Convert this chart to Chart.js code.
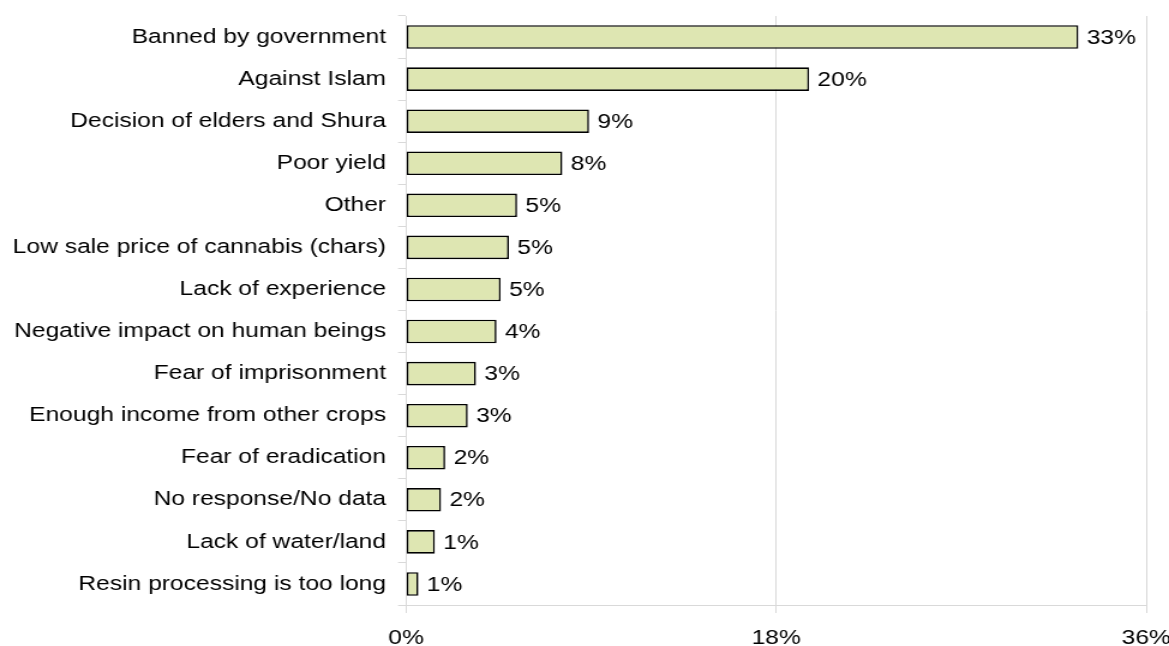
<!DOCTYPE html>
<html lang="en">
<head>
<meta charset="UTF-8">
<title>Reasons for not cultivating cannabis</title>
<script src="https://cdn.jsdelivr.net/npm/chart.js"></script>
<style>
  body { margin: 0; background: #fff; overflow: hidden; }
  #wrap { transform-origin: 0 0; }
</style>
</head>
<body>
<div id="wrap"><canvas id="chart"></canvas></div>
<script>
// reasons, top to bottom, and share of respondents (%)
const reasons = [
  'Banned by government',
  'Against Islam',
  'Decision of elders and Shura',
  'Poor yield',
  'Other',
  'Low sale price of cannabis (chars)',
  'Lack of experience',
  'Negative impact on human beings',
  'Fear of imprisonment',
  'Enough income from other crops',
  'Fear of eradication',
  'No response/No data',
  'Lack of water/land',
  'Resin processing is too long'
];
const shares = [32.7, 19.6, 8.9, 7.6, 5.4, 5.0, 4.6, 4.4, 3.4, 3.0, 1.9, 1.7, 1.4, 0.6];
const axisTicks = [0, 18, 36];

const PAGE_W = 1169, PAGE_H = 646;
const STRETCH = 1.2;               // whole chart is drawn wide, text included
const W = Math.round(PAGE_W / STRETCH);

const canvas = document.getElementById('chart');
canvas.width = W;
canvas.height = PAGE_H;
document.getElementById('wrap').style.transform = 'scaleX(' + (PAGE_W / W) + ')';

const FONT = { family: '"Liberation Sans", Arial, sans-serif', size: 20.5 };
const GRID = '#d9d9d9';

// percentage printed just past the end of each bar
const valueLabels = {
  id: 'valueLabels',
  afterDatasetsDraw(chart) {
    const ctx = chart.ctx;
    ctx.save();
    ctx.font = FONT.size + 'px ' + FONT.family;
    ctx.fillStyle = '#000';
    ctx.textAlign = 'left';
    ctx.textBaseline = 'middle';
    chart.getDatasetMeta(0).data.forEach((bar, i) => {
      ctx.fillText(Math.round(shares[i]) + '%', bar.x + 7, bar.y + 1);
    });
    ctx.restore();
  }
};

new Chart(canvas, {
  type: 'bar',
  data: {
    labels: reasons,
    datasets: [{
      data: shares,
      backgroundColor: 'rgb(222, 230, 178)',
      borderColor: '#000',
      borderWidth: 1.6,
      borderSkipped: false,
      barPercentage: 0.56,
      categoryPercentage: 1
    }]
  },
  options: {
    indexAxis: 'y',
    responsive: false,
    animation: false,
    devicePixelRatio: 1,
    layout: { padding: { top: 16, right: 19, bottom: 0, left: 0 } },
    plugins: {
      legend: { display: false },
      tooltip: { enabled: false }
    },
    scales: {
      x: {
        min: 0,
        max: 36,
        afterBuildTicks: s => { s.ticks = axisTicks.map(v => ({ value: v })); },
        afterFit: s => { s.height = 41; s.paddingLeft = 0; s.paddingRight = 0; },
        ticks: {
          color: '#000',
          font: FONT,
          padding: 13,
          maxRotation: 0,
          callback: v => v + '%'
        },
        grid: { color: GRID, tickLength: 8 },
        border: { color: GRID }
      },
      y: {
        afterFit: s => { s.width = 406 / STRETCH; s.paddingTop = 0; s.paddingBottom = 0; },
        ticks: { color: '#000', font: FONT, padding: 10 },
        grid: { color: GRID, offset: true, drawOnChartArea: false, tickLength: 8 / STRETCH },
        border: { color: GRID }
      }
    }
  },
  plugins: [valueLabels]
});
</script>
</body>
</html>
